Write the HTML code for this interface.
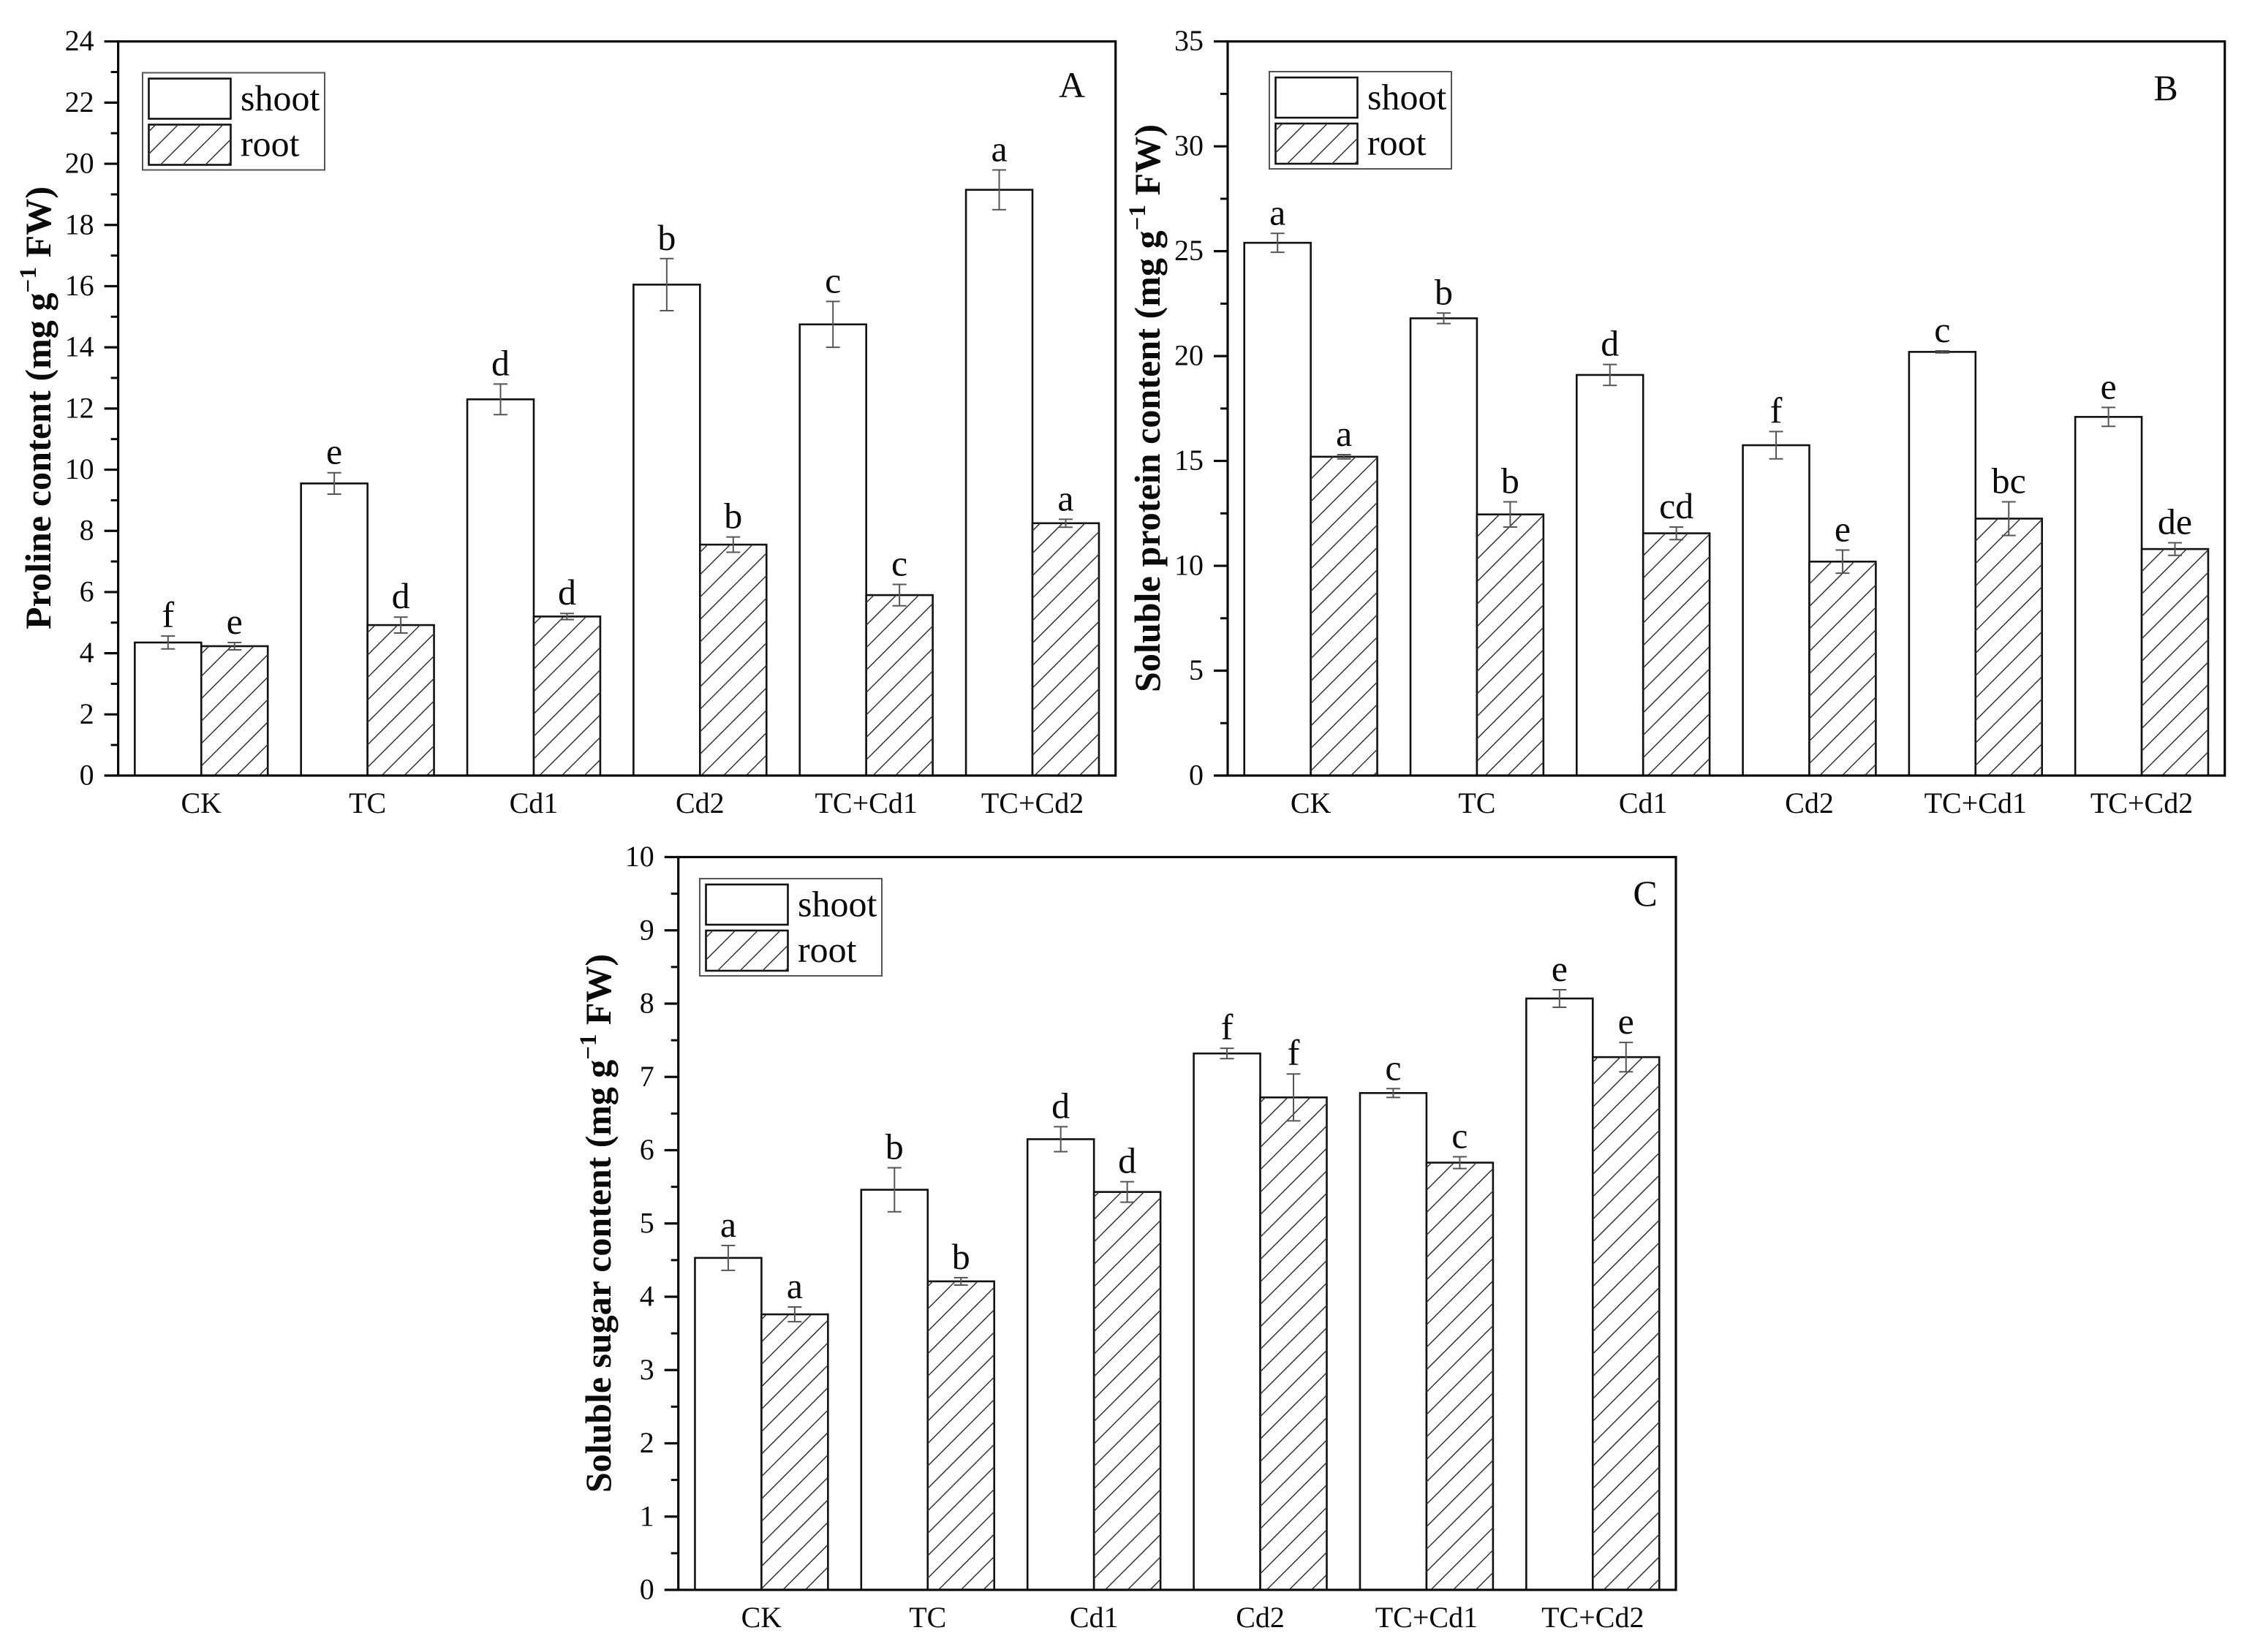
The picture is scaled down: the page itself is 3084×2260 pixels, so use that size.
<!DOCTYPE html>
<html lang="en">
<head>
<meta charset="utf-8">
<title>Proline, soluble protein and soluble sugar content</title>
<style>
  html, body { margin: 0; padding: 0; background: #fff; }
  svg { display: block; }
  text { font-family: "Liberation Serif", serif; fill: #0a0a0a; }
  .title { font-size: 50px; font-weight: bold; }
</style>
</head>
<body>
<svg id="figure" xmlns="http://www.w3.org/2000/svg" width="3084" height="2260" viewBox="0 0 3084 2260">
  <rect x="0" y="0" width="3084" height="2260" fill="#fff"/>
  <text class="title" textLength="606" transform="translate(69,861) rotate(-90)">Proline content (mg g<tspan dy="-20" font-size="33">−1</tspan><tspan dy="20"> FW)</tspan></text>
  <text class="title" textLength="777" transform="translate(1586,947) rotate(-90)">Soluble protein content (mg g<tspan dy="-20" font-size="33">−1</tspan><tspan dy="20"> FW)</tspan></text>
  <text class="title" textLength="737" transform="translate(835,2042) rotate(-90)">Soluble sugar content (mg g<tspan dy="-20" font-size="33">−1</tspan><tspan dy="20"> FW)</tspan></text>
</svg>
<script>
// ---------- Chart data ----------
const categories = ['CK', 'TC', 'Cd1', 'Cd2', 'TC+Cd1', 'TC+Cd2'];
const seriesNames = ['shoot', 'root'];

const ticksA = [0, 2, 4, 6, 8, 10, 12, 14, 16, 18, 20, 22, 24];
const shootA = [4.35, 9.55, 12.3, 16.05, 14.75, 19.15];
const shootErrA = [0.21, 0.35, 0.5, 0.85, 0.75, 0.65];
const shootLettersA = ['f', 'e', 'd', 'b', 'c', 'a'];
const rootA = [4.23, 4.92, 5.2, 7.55, 5.9, 8.25];
const rootErrA = [0.12, 0.26, 0.1, 0.25, 0.35, 0.13];
const rootLettersA = ['e', 'd', 'd', 'b', 'c', 'a'];

const ticksB = [0, 5, 10, 15, 20, 25, 30, 35];
const shootB = [25.4, 21.8, 19.1, 15.75, 20.2, 17.1];
const shootErrB = [0.45, 0.25, 0.5, 0.65, 0.05, 0.45];
const shootLettersB = ['a', 'b', 'd', 'f', 'c', 'e'];
const rootB = [15.2, 12.45, 11.55, 10.2, 12.25, 10.8];
const rootErrB = [0.1, 0.6, 0.3, 0.55, 0.8, 0.3];
const rootLettersB = ['a', 'b', 'cd', 'e', 'bc', 'de'];

const ticksC = [0, 1, 2, 3, 4, 5, 6, 7, 8, 9, 10];
const shootC = [4.53, 5.46, 6.15, 7.32, 6.78, 8.07];
const shootErrC = [0.17, 0.3, 0.17, 0.07, 0.06, 0.12];
const shootLettersC = ['a', 'b', 'd', 'f', 'c', 'e'];
const rootC = [3.76, 4.21, 5.43, 6.72, 5.83, 7.27];
const rootErrC = [0.1, 0.05, 0.14, 0.32, 0.08, 0.2];
const rootLettersC = ['a', 'b', 'd', 'f', 'c', 'e'];

// ---------- Drawing ----------
const NS = 'http://www.w3.org/2000/svg';
const svg = document.getElementById('figure');
const HATCH = 30.7;

function mk(tag, attrs, parent) {
  const el = document.createElementNS(NS, tag);
  for (const k in attrs) el.setAttribute(k, attrs[k]);
  parent.appendChild(el);
  return el;
}

// path of 45-degree hatch lines clipped to a box
function hatchPath(x0, y0, x1, y1, offset) {
  let d = '';
  const w = x1 - x0, h = y1 - y0;
  for (let c = offset - h - HATCH * Math.ceil((h) / HATCH) ; c < w; c += HATCH) {
    // line passes through (x0 + c, y1) rising to the right
    let sx = c, sy = 0;
    if (sx < 0) { sy = -sx; sx = 0; }
    let ex = c + h, ey = h;
    if (ex > w) { ey = w - c; ex = w; }
    if (sy >= h || ey <= sy) continue;
    d += 'M' + (x0 + sx).toFixed(1) + ' ' + (y1 - sy).toFixed(1) + 'L' + (x0 + ex).toFixed(1) + ' ' + (y1 - ey).toFixed(1);
  }
  return d;
}

function drawLegend(panel, lg) {
  const g = mk('g', {}, svg);
  
  

  const box = mk('rect', { x: lg.x, y: lg.y, width: 249, height: 133, fill: '#fff', stroke: '#555', 'stroke-width': 2 }, g);
  
  

  seriesNames.forEach(function (name, i) {
    const sy = lg.y + 8 + i * 63;
    const sx = lg.x + 8.5;
    const sw = mk('rect', { x: sx, y: sy, width: 112, height: 55, fill: '#fff', stroke: '#111', 'stroke-width': 2.6 }, g);
    
    
    if (i === 1) {
      const ha = mk('path', { d: hatchPath(sx, sy, sx + 112, sy + 55, 9.5), stroke: '#333', 'stroke-width': 1.5, fill: 'none' }, g);
      
      
    }
    const t = mk('text', { x: lg.x + 134, y: lg.y + 51.5 + i * 62.5, 'font-size': 50 }, g);
    t.textContent = name;
    
    
  });
}

function drawPanel(p) {
  const g = mk('g', {}, svg);
  
  

  const maxV = p.ticks[p.ticks.length - 1];
  const minV = p.ticks[0];
  const yScale = function (v) { return p.bottom - (v - minV) / (maxV - minV) * (p.bottom - p.top); };
  const band = (p.right - p.left) / categories.length;
  const xCenter = function (i) { return p.left + band * (i + 0.5); };
  const barW = band * 0.4;

  // bars
  [p.shoot, p.root].forEach(function (vals, s) {
    vals.forEach(function (v, i) {
      const x0 = xCenter(i) - barW + s * barW;
      const y0 = yScale(v);
      const r = mk('rect', { x: x0, y: y0, width: barW, height: p.bottom - y0, fill: '#fff', stroke: '#111', 'stroke-width': 2.6 }, g);
      
      
      if (s === 1) {
        const h = mk('path', { d: hatchPath(x0, y0, x0 + barW, p.bottom, p.hatchOffset), stroke: '#333', 'stroke-width': 1.5, fill: 'none' }, g);
        
        
      }
    });
  });

  // error bars and significance letters
  [[p.shoot, p.shootErr, p.shootLetters], [p.root, p.rootErr, p.rootLetters]].forEach(function (set, s) {
    set[0].forEach(function (v, i) {
      const cx = xCenter(i) - barW / 2 + s * barW;
      const yHi = yScale(v + set[1][i]);
      const yLo = yScale(v - set[1][i]);
      const d = 'M' + cx + ' ' + yHi + 'V' + yLo + 'M' + (cx - 9.5) + ' ' + yHi + 'H' + (cx + 9.5) + 'M' + (cx - 9.5) + ' ' + yLo + 'H' + (cx + 9.5);
      const e = mk('path', { d: d, stroke: '#555', 'stroke-width': 2, fill: 'none' }, g);
      
      
      const t = mk('text', { x: cx, y: yHi - 12, 'text-anchor': 'middle', 'font-size': 50 }, g);
      t.textContent = set[2][i];
      
      
    });
  });

  // frame
  const frame = mk('rect', { x: p.left, y: p.top, width: p.right - p.left, height: p.bottom - p.top, fill: 'none', stroke: '#0a0a0a', 'stroke-width': 3.2 }, g);
  
  

  // y ticks
  p.ticks.forEach(function (v, i) {
    const y = yScale(v);
    const tk = mk('line', { x1: p.left - 19, x2: p.left, y1: y, y2: y, stroke: '#0a0a0a', 'stroke-width': 3.2 }, g);
    
    
    const lb = mk('text', { x: p.left - 33, y: y + 12.5, 'text-anchor': 'end', 'font-size': 40 }, g);
    lb.textContent = v;
    
    
    if (i < p.ticks.length - 1) {
      const ym = yScale((v + p.ticks[i + 1]) / 2);
      const mt = mk('line', { x1: p.left - 10, x2: p.left, y1: ym, y2: ym, stroke: '#0a0a0a', 'stroke-width': 3 }, g);
      
      
    }
  });

  // category labels
  categories.forEach(function (c, i) {
    const t = mk('text', { x: xCenter(i), y: p.bottom + 51, 'text-anchor': 'middle', 'font-size': 40 }, g);
    t.textContent = c;
    
    
  });

  // panel letter
  const pl = mk('text', { x: p.labelX, y: p.labelY, 'text-anchor': 'middle', 'font-size': 50 }, g);
  pl.textContent = p.id;
  
  

  drawLegend(p.id, p.legend);
}

drawPanel({ id: 'A', left: 161.6, right: 1525.7, top: 56.7, bottom: 1061, ticks: ticksA,
  shoot: shootA, shootErr: shootErrA, shootLetters: shootLettersA,
  root: rootA, rootErr: rootErrA, rootLetters: rootLettersA,
  hatchOffset: 10.5, labelX: 1466, labelY: 133, legend: { x: 195, y: 99.5 } });

drawPanel({ id: 'B', left: 1679, right: 3042.7, top: 56.7, bottom: 1061, ticks: ticksB,
  shoot: shootB, shootErr: shootErrB, shootLetters: shootLettersB,
  root: rootB, rootErr: rootErrB, rootLetters: rootLettersB,
  hatchOffset: 0, labelX: 2962, labelY: 137, legend: { x: 1736, y: 98 } });

drawPanel({ id: 'C', left: 927.7, right: 2292, top: 1172.5, bottom: 2175, ticks: ticksC,
  shoot: shootC, shootErr: shootErrC, shootLetters: shootLettersC,
  root: rootC, rootErr: rootErrC, rootLetters: rootLettersC,
  hatchOffset: 7, labelX: 2250, labelY: 1239, legend: { x: 957, y: 1202 } });
</script>
</body>
</html>
